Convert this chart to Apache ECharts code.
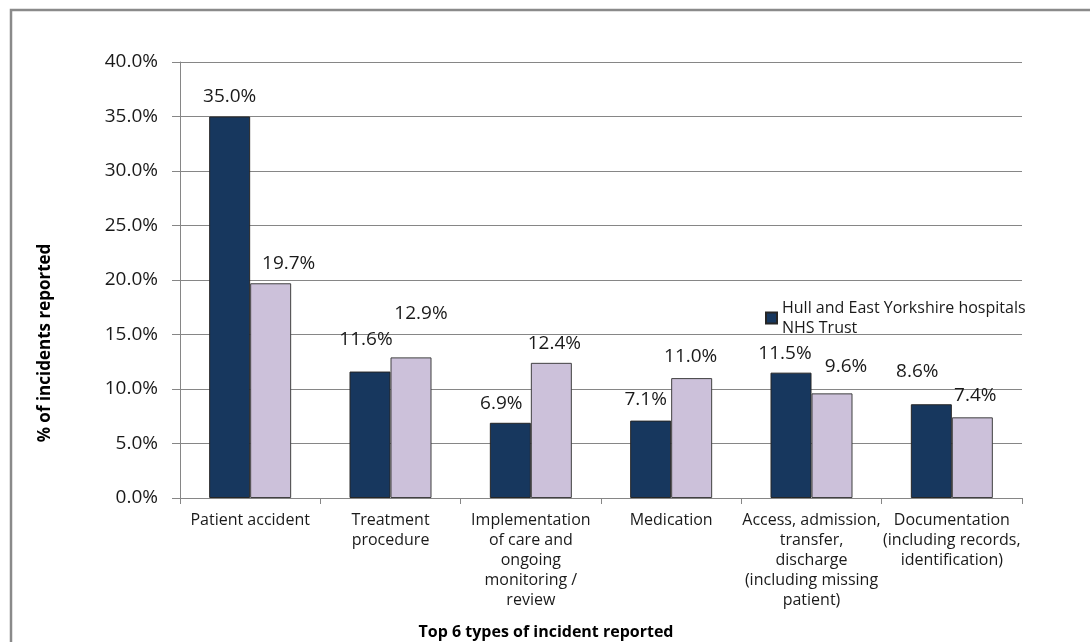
<!DOCTYPE html>
<html>
<head>
<meta charset="utf-8">
<script src="https://cdn.jsdelivr.net/npm/echarts@6/dist/echarts.min.js"></script>
<style>
html,body{margin:0;padding:0;background:#fff;}
#chart{width:1090px;height:642px;}
</style>
</head>
<body>
<div id="chart"></div>
<script>
const categories = [
  "Patient accident",
  "Treatment\nprocedure",
  "Implementation\nof care and\nongoing\nmonitoring /\nreview",
  "Medication",
  "Access, admission,\ntransfer,\ndischarge\n(including missing\npatient)",
  "Documentation\n(including records,\nidentification)"
];
const hullValues = [35.0, 11.6, 6.9, 7.1, 11.5, 8.6];
const otherValues = [19.7, 12.9, 12.4, 11.0, 9.6, 7.4];
const seriesNames = ["Hull and East Yorkshire hospitals NHS Trust", "National"];
const yTicks = { min: 0, max: 40, interval: 5 };

// label nudges (style only), as hand-placed in the original
const hullLabelOffsets = [[0, 0], [-4, -12], [-9, 0], [-5, -2], [-6, 0], [-14, -13]];
const otherLabelOffsets = [[18, 0], [10, -24], [3, 0], [-1, -2], [14, -7], [3, -2]];

const FONT = "Open Sans";
const chart = echarts.init(document.getElementById('chart'));
const labelStyle = {
  show: true, position: 'top', distance: 10,
  fontFamily: FONT, fontSize: 19, color: '#1a1a1a',
  formatter: p => p.value.toFixed(1) + '%'
};
function withOffsets(values, offsets) {
  return values.map((v, i) => ({ value: v, label: { offset: offsets[i] } }));
}
chart.setOption({
  animation: false,
  backgroundColor: '#fff',
  textStyle: { fontFamily: FONT },
  grid: { left: 180, right: 68, top: 62, bottom: 144, containLabel: false },
  legend: {
    data: [seriesNames[0]],
    left: 760, top: 293,
    itemWidth: 11, itemHeight: 11,
    icon: 'rect',
    formatter: () => 'Hull and East Yorkshire hospitals\nNHS Trust',
    textStyle: { fontFamily: FONT, fontSize: 16, color: '#1a1a1a', lineHeight: 20 },
    itemGap: 4
  },
  xAxis: {
    type: 'category',
    data: categories,
    axisLine: { lineStyle: { color: '#868686', width: 1 } },
    axisTick: { show: true, length: 6, alignWithLabel: false, lineStyle: { color: '#868686' } },
    axisLabel: { interval: 0, fontFamily: FONT, fontSize: 16, color: '#1a1a1a', lineHeight: 20, margin: 12, align: 'center' }
  },
  yAxis: {
    type: 'value',
    min: yTicks.min, max: yTicks.max, interval: yTicks.interval,
    axisLine: { show: true, lineStyle: { color: '#868686' } },
    axisTick: { show: true, length: 8, lineStyle: { color: '#868686' } },
    splitLine: { show: true, lineStyle: { color: '#868686', width: 1 } },
    axisLabel: { fontFamily: FONT, fontSize: 19, color: '#1a1a1a', margin: 22, formatter: v => v.toFixed(1) + '%' }
  },
  series: [
    {
      name: seriesNames[0], type: 'bar', data: withOffsets(hullValues, hullLabelOffsets),
      barWidth: 41, barGap: '0%',
      itemStyle: { color: '#17375E', borderColor: '#262626', borderWidth: 1 },
      label: labelStyle
    },
    {
      name: seriesNames[1], type: 'bar', data: withOffsets(otherValues, otherLabelOffsets),
      barWidth: 41,
      itemStyle: { color: '#CCC1DA', borderColor: '#404040', borderWidth: 1 },
      label: labelStyle
    }
  ],
  graphic: [
    { type: 'rect', shape: { x: 11, y: 10, width: 1200, height: 800 },
      style: { fill: 'none', stroke: '#8a8a8a', lineWidth: 2.5 }, silent: true },
    { type: 'text', x: 45, y: 343, rotation: Math.PI / 2,
      style: { text: '% of incidents reported', font: 'bold 17px "Open Sans"', fill: '#000',
               textAlign: 'center', textVerticalAlign: 'middle' } },
    { type: 'text', x: 546, y: 632,
      style: { text: 'Top 6 types of incident reported', font: 'bold 16px "Open Sans"', fill: '#000',
               textAlign: 'center', textVerticalAlign: 'middle' } }
  ]
});
</script>
</body>
</html>
